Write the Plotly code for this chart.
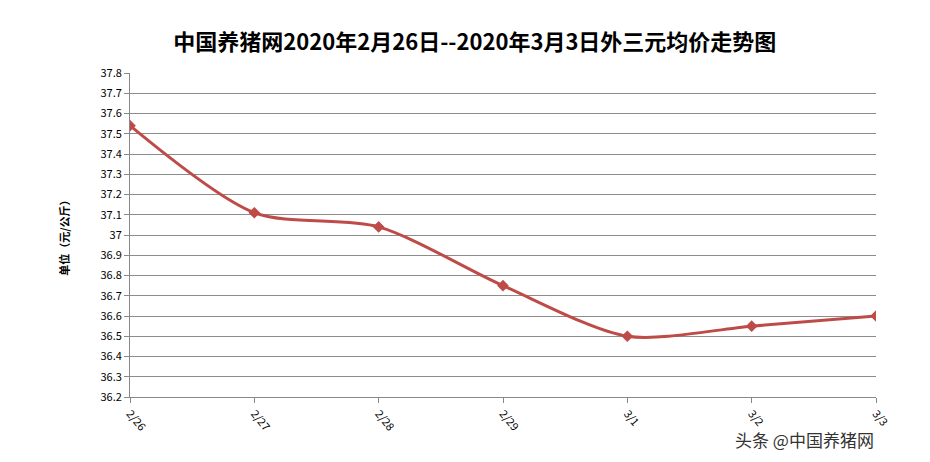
import plotly.graph_objects as go

dates = ["2/26", "2/27", "2/28", "2/29", "3/1", "3/2", "3/3"]
prices = [37.54, 37.11, 37.04, 36.75, 36.50, 36.55, 36.60]
y_ticks = [round(36.2 + 0.1 * i, 1) for i in range(17)]

fig = go.Figure()
fig.add_trace(go.Scatter(
    x=list(range(len(dates))), y=prices, mode="lines+markers",
    line=dict(color="#BE4B48", width=3, shape="spline", smoothing=0.8),
    marker=dict(symbol="diamond", size=9, color="#BE4B48"),
))

fig.update_layout(
    width=930, height=462,
    paper_bgcolor="white", plot_bgcolor="white",
    margin=dict(l=122, r=62, t=65, b=73, autoexpand=False),
    showlegend=False,
    font=dict(family="Noto Sans CJK SC", color="black"),
    title=dict(text="<b>中国养猪网2020年2月26日--2020年3月3日外三元均价走势图</b>",
               x=0.502, xanchor="center", y=0.925, yanchor="middle",
               font=dict(size=22, family="Noto Sans CJK SC")),
)
fig.update_xaxes(
    range=[0, 6], tickmode="array", tickvals=list(range(len(dates))), ticktext=dates,
    tickangle=50, tickfont=dict(size=11), showgrid=False, automargin=False,
    showline=True, linecolor="#888", ticks="outside", ticklen=5, tickcolor="#888",
)
fig.update_yaxes(
    range=[36.2, 37.8], tickmode="array", tickvals=y_ticks, automargin=False,
    ticktext=[("%g" % v) for v in y_ticks], tickfont=dict(size=11),
    showgrid=True, gridcolor="#8c8c8c", gridwidth=1,
    showline=True, linecolor="#888", ticks="outside", ticklen=5, tickcolor="#888",
    title=dict(text="<b>单位（元/公斤）</b>", font=dict(size=11), standoff=28),
)
fig.add_annotation(text="头条 @中国养猪网", x=1.0, y=-0.13, xref="paper", yref="paper",
                   xanchor="right", yanchor="middle", showarrow=False,
                   font=dict(size=17, color="#333"))

fig.write_html("out.html")
